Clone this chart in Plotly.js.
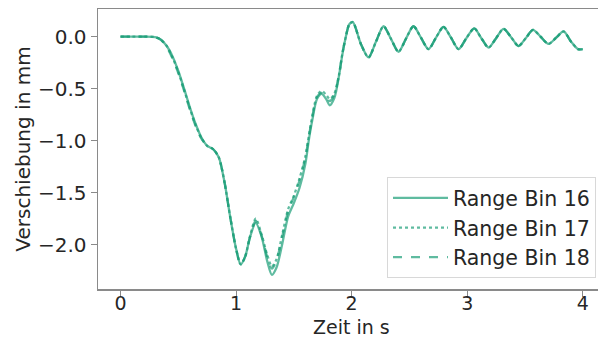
<!DOCTYPE html>
<html>
<head>
<meta charset="utf-8">
<script src="https://cdn.plot.ly/plotly-3.0.1.min.js"></script>
<style>html,body{margin:0;padding:0;background:#fff;}#chart{width:598px;height:340px;}</style>
</head>
<body>
<div id="chart"></div>
<script>
const timeS = [0, 0.1, 0.2, 0.3, 0.35, 0.4, 0.45, 0.5, 0.55, 0.6, 0.65, 0.7, 0.75, 0.8, 0.85, 0.9, 0.95, 1.0, 1.04, 1.08, 1.12, 1.17, 1.22, 1.27, 1.31, 1.35, 1.4, 1.45, 1.5, 1.55, 1.6, 1.63, 1.66, 1.7, 1.74, 1.78, 1.81, 1.85, 1.89, 1.92, 1.95, 1.98, 2.01, 2.08, 2.146, 2.21, 2.276, 2.34, 2.405, 2.47, 2.535, 2.60, 2.665, 2.73, 2.795, 2.86, 2.925, 2.99, 3.061, 3.12, 3.185, 3.25, 3.314, 3.38, 3.444, 3.51, 3.569, 3.635, 3.704, 3.77, 3.834, 3.90, 3.96, 4.0];

const bin16 = [0, 0, 0, -0.005, -0.03, -0.09, -0.19, -0.33, -0.5, -0.68, -0.84, -0.97, -1.05, -1.08, -1.16, -1.40, -1.74, -2.04, -2.19, -2.11, -1.93, -1.79, -1.92, -2.16, -2.29, -2.22, -1.99, -1.73, -1.6, -1.45, -1.22, -0.99, -0.8, -0.6, -0.55, -0.6, -0.66, -0.59, -0.38, -0.17, 0.0, 0.12, 0.14, -0.07, -0.2, -0.05, 0.10, -0.02, -0.145, -0.02, 0.10, -0.01, -0.12, -0.01, 0.095, -0.01, -0.12, -0.02, 0.08, -0.01, -0.105, -0.015, 0.075, -0.005, -0.09, -0.01, 0.065, 0.0, -0.07, -0.01, 0.05, -0.05, -0.12, -0.12];

const bin17 = [0, 0, 0, -0.005, -0.03, -0.09, -0.2, -0.34, -0.51, -0.69, -0.85, -0.975, -1.05, -1.08, -1.16, -1.40, -1.74, -2.04, -2.19, -2.11, -1.92, -1.75, -1.9, -2.1, -2.21, -2.14, -1.9, -1.66, -1.53, -1.36, -1.15, -0.95, -0.76, -0.57, -0.52, -0.56, -0.6, -0.55, -0.37, -0.16, 0.0, 0.12, 0.14, -0.07, -0.2, -0.05, 0.10, -0.02, -0.145, -0.02, 0.10, -0.01, -0.12, -0.01, 0.095, -0.01, -0.12, -0.02, 0.08, -0.01, -0.105, -0.015, 0.075, -0.005, -0.09, -0.01, 0.065, 0.0, -0.07, -0.01, 0.05, -0.05, -0.12, -0.12];

const bin18 = [0, 0, 0, -0.005, -0.03, -0.1, -0.21, -0.35, -0.52, -0.70, -0.86, -0.98, -1.05, -1.08, -1.16, -1.40, -1.74, -2.04, -2.19, -2.11, -1.93, -1.77, -1.91, -2.12, -2.23, -2.15, -1.92, -1.68, -1.54, -1.38, -1.16, -0.96, -0.77, -0.58, -0.54, -0.58, -0.62, -0.56, -0.37, -0.16, 0.0, 0.12, 0.14, -0.07, -0.2, -0.05, 0.10, -0.02, -0.145, -0.02, 0.10, -0.01, -0.12, -0.01, 0.095, -0.01, -0.12, -0.02, 0.08, -0.01, -0.105, -0.015, 0.075, -0.005, -0.09, -0.01, 0.065, 0.0, -0.07, -0.01, 0.05, -0.05, -0.12, -0.12];

const seriesNames = ['Range Bin 16', 'Range Bin 17', 'Range Bin 18'];
const xTicks = [0, 1, 2, 3, 4];
const yTicks = [0, -0.5, -1.0, -1.5, -2.0];
const xTitle = 'Zeit in s';
const yTitle = 'Verschiebung in mm';

const lineColor = 'rgba(27,158,119,0.7)';
const fnt = {family: 'DejaVu Sans, sans-serif', size: 20, color: '#262626'};
const xFnt = {family: 'DejaVu Sans, sans-serif', size: 19, color: '#262626'};
const legFnt = {family: 'DejaVu Sans, sans-serif', size: 20.5, color: '#262626'};
const dashes = ['solid', 'dot', 'dash'];
const ys = [bin16, bin17, bin18];

const traces = ys.map((y, i) => ({
  x: timeS, y: y, type: 'scatter', mode: 'lines', name: seriesNames[i],
  legendgroup: 'g' + i,
  line: {color: lineColor, width: 2.3, dash: dashes[i], shape: 'spline', smoothing: 0.8}
}));

const layout = {
  width: 598, height: 340,
  margin: {l: 98, r: 0, t: 9, b: 51},
  paper_bgcolor: '#fff', plot_bgcolor: '#fff',
  font: fnt,
  showlegend: true,
  legend: {
    x: 0.996, y: 0.039, xanchor: 'right', yanchor: 'bottom',
    bgcolor: 'rgba(255,255,255,0.8)', bordercolor: '#d8d8d8', borderwidth: 1,
    font: legFnt, tracegroupgap: 0, itemwidth: 55, traceorder: 'grouped'
  },
  annotations: [{
    text: xTitle, xref: 'paper', yref: 'paper', x: 0.507, y: -0.1786,
    xanchor: 'center', yanchor: 'bottom', borderpad: 0, showarrow: false, font: xFnt
  }],
  xaxis: {
    range: [-0.195, 4.132], tickvals: xTicks, ticktext: xTicks.map(String),
    showgrid: false, zeroline: false, showline: true, mirror: true,
    linecolor: '#8a8a8a', linewidth: 1.5, ticks: 'outside', ticklen: 6, tickcolor: '#8a8a8a',
    tickfont: xFnt, ticklabelstandoff: -9
  },
  yaxis: {
    range: [-2.426, 0.266], tickvals: yTicks, tickformat: '.1f',
    showgrid: false, zeroline: false, showline: true,
    linecolor: '#8a8a8a', linewidth: 1.5, ticks: 'outside', ticklen: 6, tickcolor: '#8a8a8a',
    tickfont: fnt,
    title: {text: yTitle, font: fnt, standoff: 2}
  }
};

Plotly.newPlot('chart', traces, layout, {displayModeBar: false, staticPlot: true});
</script>
</body>
</html>
